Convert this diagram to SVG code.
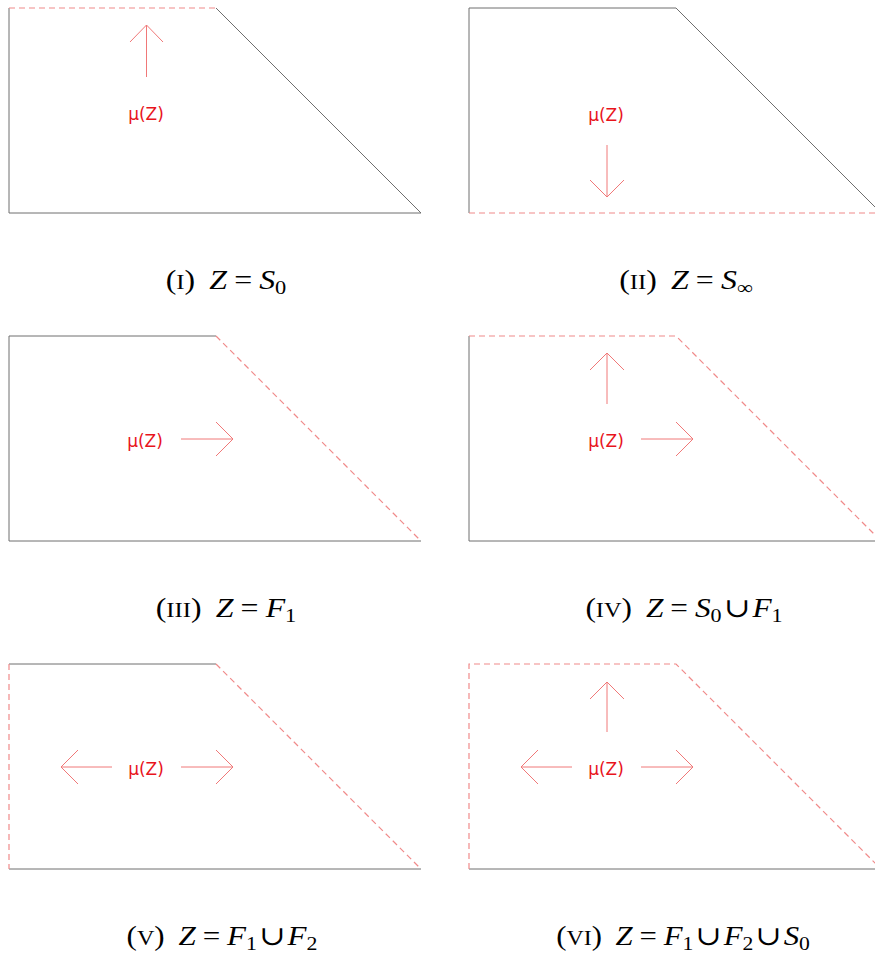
<svg xmlns="http://www.w3.org/2000/svg" width="875" height="953" viewBox="0 0 875 953">
<style>
.s{stroke:#6e6e6e;stroke-width:1;fill:none}
.d{stroke:#f08a8a;stroke-width:1.2;fill:none;stroke-dasharray:6 4}
.a{stroke:#f07878;stroke-width:1;fill:none}
.lab{font-family:"DejaVu Sans",sans-serif;font-size:17px;fill:#e8141c;text-anchor:middle}
.cap{font-family:"Liberation Serif","DejaVu Serif",serif;font-size:27px;fill:#000;text-anchor:middle}
.sc{font-size:21px}
.it{font-style:italic}
.sub{font-size:19px}
</style>
<rect width="875" height="953" fill="#fff"/>
<g id="panel1">
<path class="s" d="M216,8 L421,213 L9,213 L9,8"/>
<path class="d" d="M9,8 L216,8"/>
</g>
<g id="panel2">
<path class="s" d="M469,213 L469,8 L676,8 L881,213"/>
<path class="d" d="M469,213 L881,213"/>
</g>
<g id="panel3">
<path class="s" d="M216,336 L9,336 L9,541 L421,541"/>
<path class="d" d="M216,336 L421,541"/>
</g>
<g id="panel4">
<path class="s" d="M469,336 L469,541 L881,541"/>
<path class="d" d="M469,336 L676,336 L881,541"/>
</g>
<g id="panel5">
<path class="s" d="M9,664 L216,664 M9,869 L421,869"/>
<path class="d" d="M9,664 L9,869 M216,664 L421,869"/>
</g>
<g id="panel6">
<path class="s" d="M469,869 L881,869"/>
<path class="d" d="M469,869 L469,664 L676,664 L881,869"/>
</g>
<g id="arrows">
<path class="a" d="M146.5,77 L146.5,25 M130,42 L146.5,25 L163,42"/>
<path class="a" d="M607,145 L607,197 M590,180 L607,197 L624,180"/>
<path class="a" d="M181,439 L233,439 M216,422 L233,439 L216,456"/>
<path class="a" d="M607,404 L607,353 M590,370 L607,353 L624,370"/>
<path class="a" d="M641,439 L693,439 M676,422 L693,439 L676,456"/>
<path class="a" d="M112,767 L61,767 M78,750 L61,767 L78,784"/>
<path class="a" d="M181,767 L233,767 M216,750 L233,767 L216,784"/>
<path class="a" d="M607,732 L607,682 M590,699 L607,682 L624,699"/>
<path class="a" d="M572,767 L521,767 M538,750 L521,767 L538,784"/>
<path class="a" d="M641,767 L693,767 M676,750 L693,767 L676,784"/>
</g>
<g id="labels">
<text class="lab" x="146" y="120">μ(Z)</text>
<text class="lab" x="606" y="121">μ(Z)</text>
<text class="lab" x="145" y="447">μ(Z)</text>
<text class="lab" x="606" y="447">μ(Z)</text>
<text class="lab" x="146" y="775">μ(Z)</text>
<text class="lab" x="606" y="775">μ(Z)</text>
</g>
<g id="captions">
<g transform="translate(226,289) scale(1.18,1)"><text class="cap">(<tspan class="sc">I</tspan>)<tspan class="it" dx="12">Z</tspan><tspan dx="6">=</tspan><tspan class="it" dx="6">S</tspan><tspan class="sub" dy="5">0</tspan></text></g>
<g transform="translate(686,289) scale(1.18,1)"><text class="cap">(<tspan class="sc">II</tspan>)<tspan class="it" dx="12">Z</tspan><tspan dx="6">=</tspan><tspan class="it" dx="6">S</tspan><tspan class="sub" dy="5">∞</tspan></text></g>
<g transform="translate(226,617) scale(1.18,1)"><text class="cap">(<tspan class="sc">III</tspan>)<tspan class="it" dx="12">Z</tspan><tspan dx="6">=</tspan><tspan class="it" dx="6">F</tspan><tspan class="sub" dy="5">1</tspan></text></g>
<g transform="translate(684,617) scale(1.16,1)"><text class="cap">(<tspan class="sc">IV</tspan>)<tspan class="it" dx="12">Z</tspan><tspan dx="6">=</tspan><tspan class="it" dx="6">S</tspan><tspan class="sub" dy="5">0</tspan><tspan dy="-5" dx="2">∪</tspan><tspan class="it" dx="2">F</tspan><tspan class="sub" dy="5">1</tspan></text></g>
<g transform="translate(222,945) scale(1.15,1)"><text class="cap">(<tspan class="sc">V</tspan>)<tspan class="it" dx="12">Z</tspan><tspan dx="6">=</tspan><tspan class="it" dx="6">F</tspan><tspan class="sub" dy="5">1</tspan><tspan dy="-5" dx="2">∪</tspan><tspan class="it" dx="2">F</tspan><tspan class="sub" dy="5">2</tspan></text></g>
<g transform="translate(683,945) scale(1.14,1)"><text class="cap">(<tspan class="sc">VI</tspan>)<tspan class="it" dx="12">Z</tspan><tspan dx="6">=</tspan><tspan class="it" dx="6">F</tspan><tspan class="sub" dy="5">1</tspan><tspan dy="-5" dx="2">∪</tspan><tspan class="it" dx="2">F</tspan><tspan class="sub" dy="5">2</tspan><tspan dy="-5" dx="2">∪</tspan><tspan class="it" dx="2">S</tspan><tspan class="sub" dy="5">0</tspan></text></g>
</g>
</svg>
